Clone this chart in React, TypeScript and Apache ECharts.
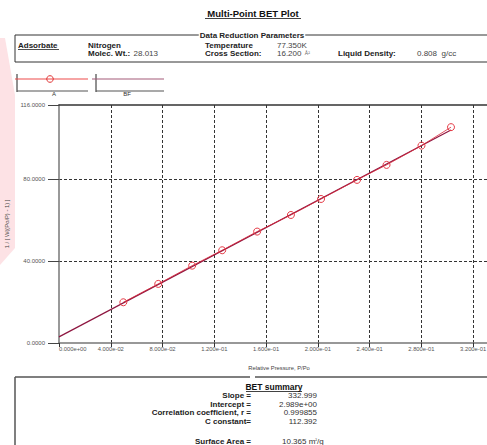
import React, { useEffect, useRef } from "react";
import * as echarts from "echarts";

// ---- data ----
const relPressure = [0.0497, 0.0767, 0.1029, 0.1261, 0.1531, 0.1792, 0.2025, 0.2303, 0.2531, 0.2801, 0.3029];
const betTransform = [19.85, 28.8, 37.7, 45.2, 54.3, 62.4, 70.2, 79.5, 86.8, 96.2, 105.2];
const fitPressure = [0, 0.3029];
const fitTransform = [2.989, 103.85];
const xMin = 0;
const xMax = 0.34;
const xStep = 0.04;
const yMin = 0;
const yMax = 116;
const yStep = 40;
const seriesNames = ["A", "BF"];
const summaryLabels = ["Slope =", "Intercept =", "Correlation coefficient, r =", "C constant="];
const summaryValues = ["332.999", "2.989e+00", "0.999855", "112.392"];

const FONT = "'Liberation Sans', Arial, sans-serif";

function sci(v: number): string {
  const [m, e] = v.toExponential(3).split("e");
  const n = parseInt(e, 10);
  return m + "e" + (n < 0 ? "-" : "+") + String(Math.abs(n)).padStart(2, "0");
}

function txt(x: number, y: number, text: string, size: number, bold: boolean, fill: string, align = "left", extra: any = {}) {
  return {
    type: "text",
    x,
    y,
    style: {
      text,
      fontSize: size,
      fontWeight: bold ? "bold" : "normal",
      fontFamily: FONT,
      fill,
      align,
      textAlign: align,
      verticalAlign: "middle",
      textVerticalAlign: "middle",
      ...extra,
    },
  };
}

function ln(x1: number, y1: number, x2: number, y2: number, stroke: string, lineWidth = 1) {
  return { type: "line", shape: { x1, y1, x2, y2 }, style: { stroke, lineWidth } };
}

export default function App() {
  const ref = useRef<HTMLDivElement>(null);
  useEffect(() => {
    document.body.style.margin = "0";
    const chart = echarts.init(ref.current!, undefined, { renderer: "svg" });

    const graphic: any[] = [
      // pink tint at the left edge
      {
        type: "polygon",
        shape: { points: [[0, 38], [5, 38], [15, 95], [15, 248], [0, 265]] },
        style: { fill: "#fde2e5" },
        z: -10,
      },
      // title
      txt(253, 13, "Multi-Point BET Plot", 9.5, true, "#111", "center"),
      ln(205, 18.5, 301, 18.5, "#111", 0.8),
      // data reduction box
      { type: "rect", shape: { x: 15, y: 35, width: 490, height: 27 }, style: { fill: "none", stroke: "#333", lineWidth: 1 } },
      txt(252, 35, "Data Reduction Parameters", 8, true, "#222", "center", { backgroundColor: "#fff", padding: [0, 1] }),
      txt(18, 45, "Adsorbate", 8, true, "#222"),
      ln(18, 49.5, 59, 49.5, "#222", 0.8),
      txt(88, 45, "Nitrogen", 8, true, "#222"),
      {
        type: "text",
        x: 88,
        y: 53,
        style: {
          text: "{b|Molec. Wt.:} {r|28.013}",
          verticalAlign: "middle",
          textVerticalAlign: "middle",
          rich: {
            b: { fontSize: 8, fontWeight: "bold", fontFamily: FONT, fill: "#222", color: "#222" },
            r: { fontSize: 8, fontFamily: FONT, fill: "#444", color: "#444" },
          },
        },
      },
      txt(205, 45, "Temperature", 8, true, "#222"),
      txt(277, 45, "77.350K", 8, false, "#444"),
      txt(205, 53, "Cross Section:", 8, true, "#222"),
      {
        type: "text",
        x: 277,
        y: 53,
        style: {
          text: "{r|16.200} {s|Å²}",
          verticalAlign: "middle",
          textVerticalAlign: "middle",
          rich: {
            r: { fontSize: 8, fontFamily: FONT, fill: "#444", color: "#444" },
            s: { fontSize: 5, fontFamily: FONT, fill: "#666", color: "#666" },
          },
        },
      },
      txt(338, 53, "Liquid Density:", 8, true, "#222"),
      txt(417, 53, "0.808  g/cc", 8, false, "#444"),
      // legend A
      ln(17, 74, 17, 92, "#222", 1),
      ln(15, 79, 88, 79, "#ee4a4a", 1.2),
      { type: "circle", shape: { cx: 50, cy: 79, r: 3.3 }, style: { fill: "none", stroke: "#e03030", lineWidth: 1 } },
      ln(17, 91, 88, 91, "#555", 1.2),
      txt(54, 94, seriesNames[0], 6, false, "#333", "center"),
      // legend BF
      ln(96, 74, 96, 92, "#222", 1),
      ln(92, 79, 164, 79, "#a45a78", 1.2),
      ln(96, 91, 164, 91, "#555", 1.2),
      txt(127, 94, seriesNames[1], 6, false, "#333", "center"),
      // summary box
      ln(15, 377, 250, 377, "#555", 1.5),
      ln(255, 377, 490, 377, "#555", 1.5),
      ln(15, 377, 15, 450, "#555", 1.5),
      txt(274, 387, "BET summary", 8.5, true, "#111", "center"),
      ln(246, 391.5, 302, 391.5, "#111", 0.8),
    ];
    const rowY = [395.5, 404, 412.5, 421];
    summaryLabels.forEach((l, i) => {
      graphic.push(txt(251, rowY[i], l, 8, true, "#222", "right"));
      graphic.push(txt(317, rowY[i], summaryValues[i], 8, false, "#333", "right"));
    });
    graphic.push(txt(251, 441.5, "Surface Area =", 8, true, "#222", "right"));
    graphic.push({
      type: "text",
      x: 282,
      y: 441.5,
      style: {
        text: "{r|10.365 m}{s|²}{r|/g}",
        verticalAlign: "middle",
        textVerticalAlign: "middle",
        rich: {
          r: { fontSize: 8, fontFamily: FONT, fill: "#333", color: "#333" },
          s: { fontSize: 5, fontFamily: FONT, fill: "#333", color: "#333", verticalAlign: "top" },
        },
      },
    });

    const gridDash = { color: "#333", type: [3, 2] as any, width: 1 };

    chart.setOption({
      animation: false,
      backgroundColor: "#fff",
      grid: { left: 59, right: -12, top: 105, bottom: 102, containLabel: false, outerBoundsMode: "none" },
      xAxis: [
        {
          type: "value",
          min: xMin,
          max: xMax,
          interval: xStep,
          axisLine: { show: true, onZero: false, lineStyle: { color: "#777", width: 1.5 } },
          axisTick: { show: true, length: 4, lineStyle: { color: "#333", type: "dashed" } },
          axisLabel: {
            fontSize: 5.8,
            fontFamily: FONT,
            color: "#555",
            margin: 3,
            alignMinLabel: "left",
            showMaxLabel: false,
            formatter: (v: number) => (v > 0.33 ? "" : sci(v)),
          },
          splitLine: { show: true, showMinLine: false, showMaxLine: false, lineStyle: gridDash },
          name: "Relative Pressure, P/Po",
          nameLocation: "middle",
          nameGap: 22,
          nameTextStyle: { fontSize: 5.8, fontFamily: FONT, color: "#444" },
        },
        {
          type: "value",
          position: "top",
          min: xMin,
          max: xMax,
          interval: xStep,
          axisLine: { show: true, onZero: false, lineStyle: { color: "#333", width: 1.5 } },
          axisTick: { show: false },
          axisLabel: { show: false },
          splitLine: { show: false },
        },
      ],
      yAxis: {
        type: "value",
        min: yMin,
        max: yMax,
        interval: yStep,
        axisLine: { show: true, onZero: false, lineStyle: { color: "#777", width: 1.5 } },
        axisTick: { show: true, length: 11, lineStyle: { color: "#444", width: 1 } },
        axisLabel: {
          fontSize: 6,
          fontFamily: FONT,
          color: "#555",
          margin: 14,
          formatter: (v: number) => v.toFixed(4),
        },
        splitLine: { show: true, showMinLine: false, showMaxLine: false, lineStyle: gridDash },
        name: "1 / [ W((Po/P) - 1) ]",
        nameLocation: "middle",
        nameGap: 44,
        nameRotate: 90,
        nameTextStyle: { fontSize: 5.8, fontFamily: FONT, color: "#444" },
      },
      series: [
        {
          name: seriesNames[1],
          type: "line",
          data: fitPressure.map((x, i) => [x, fitTransform[i]]),
          symbol: "none",
          lineStyle: { color: "#8e1640", width: 1.2 },
          z: 2,
        },
        {
          name: seriesNames[0],
          type: "line",
          data: relPressure.map((x, i) => [x, betTransform[i]]),
          symbol: "circle",
          symbolSize: 7,
          itemStyle: { color: "rgba(0,0,0,0)", borderColor: "#e53a45", borderWidth: 1 },
          lineStyle: { color: "#d8283a", width: 0.8 },
          z: 3,
        },
      ],
      graphic,
    });
    return () => chart.dispose();
  }, []);
  return <div ref={ref} style={{ position: "fixed", left: 0, top: 0, width: 487, height: 445 }} />;
}
